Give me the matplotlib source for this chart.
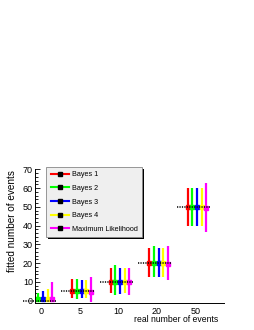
import numpy as np
import matplotlib
matplotlib.use("Agg")
import matplotlib.pyplot as plt
from matplotlib.lines import Line2D
from matplotlib.patches import Rectangle
from matplotlib.ticker import MultipleLocator

plt.rcParams['font.family'] = ['Liberation Sans', 'DejaVu Sans']

# data
real_events = [0, 5, 10, 20, 50]
tick_labels = ['0', '5', '10', '20', '50']
names = ['Bayes 1', 'Bayes 2', 'Bayes 3', 'Bayes 4', 'Maximum Likelihood']
colors = ['#ff0000', '#00ff00', '#0000ff', '#ffff00', '#ff00ff']

bayes1_val = [1.0, 5.0, 10.1, 20.1, 50.1]
bayes1_lo = [0.0, 1.3, 4.2, 12.7, 40.0]
bayes1_hi = [6.2, 11.5, 17.5, 28.3, 60.0]

bayes2_val = [1.0, 5.0, 10.1, 20.1, 50.1]
bayes2_lo = [0.0, 0.7, 3.0, 12.4, 40.0]
bayes2_hi = [3.9, 11.3, 18.9, 29.1, 60.0]

bayes3_val = [1.0, 5.0, 10.1, 20.1, 50.1]
bayes3_lo = [0.0, 1.3, 3.6, 12.7, 40.0]
bayes3_hi = [5.1, 11.0, 17.6, 28.3, 60.0]

bayes4_val = [1.0, 5.0, 10.1, 20.1, 50.1]
bayes4_lo = [0.0, 1.3, 4.2, 12.7, 40.0]
bayes4_hi = [6.2, 11.0, 17.5, 28.3, 60.0]

ml_val = [1.0, 4.8, 9.7, 19.6, 49.4]
ml_lo = [0.0, -0.5, 3.0, 10.9, 36.5]
ml_hi = [9.8, 12.7, 17.5, 29.1, 62.6]

series = [(bayes1_val, bayes1_lo, bayes1_hi),
          (bayes2_val, bayes2_lo, bayes2_hi),
          (bayes3_val, bayes3_lo, bayes3_hi),
          (bayes4_val, bayes4_lo, bayes4_hi),
          (ml_val, ml_lo, ml_hi)]
offsets = [-0.2, -0.08, 0.04, 0.16, 0.28]

fig = plt.figure(figsize=(2.55, 3.3), dpi=100)
ax = fig.add_axes([35/255, 1 - 303.3/330, (224-35)/255, (303.3-169.3)/330])

pos = np.arange(len(real_events))
for (val, lo, hi), c, off in zip(series, colors, offsets):
    val = np.array(val)
    yerr = [val - np.array(lo), np.array(hi) - val]
    ax.errorbar(pos + off, val, yerr=yerr, fmt='s', color=c, ms=3.5,
                elinewidth=1.6, capsize=0, zorder=2)

ax.hlines(real_events, pos - 0.49, pos + 0.40, colors='black',
          linestyles=(0, (0.8, 0.8)), linewidth=1.1, zorder=3, clip_on=False)

ax.set_xlim(-0.17, 4.74)
ax.set_ylim(-1.4, 70)
ax.set_xticks(pos)
ax.set_xticklabels(tick_labels)
ax.yaxis.set_major_locator(MultipleLocator(10))
ax.yaxis.set_minor_locator(MultipleLocator(2))
ax.tick_params(axis='y', which='major', direction='in', length=3.6, width=0.6, labelsize=6.5, pad=1.5)
ax.tick_params(axis='y', which='minor', direction='in', length=1.8, width=0.6)
ax.tick_params(axis='x', length=0, labelsize=6.5, pad=2.5)
for s in ['top', 'right']:
    ax.spines[s].set_visible(False)
for s in ['left', 'bottom']:
    ax.spines[s].set_linewidth(0.7)
ax.patch.set_visible(False)

fig.text(218/255, 1 - 314.5/330, 'real number of events', ha='right', va='top', fontsize=6.2)
fig.text(11.7/255, 1 - 170/330, 'fitted number of events', ha='center', va='top',
         rotation=90, fontsize=7.2)

handles = [Line2D([0], [0], color=c, lw=1.5, marker='s', ms=2.5,
                  markerfacecolor='black', markeredgecolor='black') for c in colors]
leg = fig.legend(handles, names, loc='upper left',
                 bbox_to_anchor=(46.5/255, 1 - 167/330), fontsize=5.2,
                 frameon=True, fancybox=False, framealpha=1,
                 handlelength=2.5, handletextpad=0.4, labelspacing=0.9,
                 borderpad=0.6, borderaxespad=0)
leg.set_zorder(6)
leg.get_frame().set_facecolor('#efefef')
leg.get_frame().set_edgecolor('#888888')
leg.get_frame().set_linewidth(0.6)

# small black drop shadow like the ROOT legend
fig.canvas.draw()
bb = leg.get_frame().get_window_extent()
shadow = Rectangle((bb.x0 + 2, bb.y0 - 2), bb.width, bb.height, transform=None,
                   facecolor='black', edgecolor='none', zorder=5)
fig.add_artist(shadow)

fig.savefig('out.png', dpi=100)
